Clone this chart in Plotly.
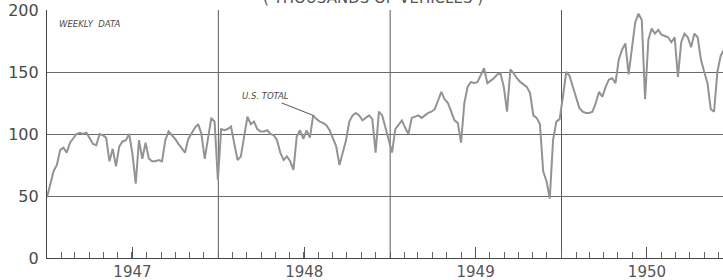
import plotly.graph_objects as go
import pandas as pd

# Weekly data, thousands of vehicles
v1947 = [49, 60, 70, 75, 87, 89, 85, 93, 97, 100,
         101, 100, 101, 97, 92, 91, 100, 99, 97, 78,
         88, 74, 90, 94, 95, 100, 84, 60, 95, 80,
         93, 80, 78, 78, 79, 78, 95, 102, 99, 96,
         92, 88, 85, 96, 101, 105, 108, 100, 80, 98,
         113, 110, 63]
v1948 = [104, 103, 104, 106, 92, 79, 82, 100, 114, 108,
         110, 104, 102, 102, 103, 100, 99, 95, 85, 79,
         82, 78, 71, 98, 103, 96, 103, 97, 115, 112,
         110, 109, 107, 103, 97, 90, 75, 85, 95, 110,
         115, 117, 115, 111, 113, 115, 112, 85, 118, 115,
         105, 96, 85]
v1949 = [104, 108, 111, 105, 100, 113, 114, 115, 113, 115,
         117, 118, 120, 127, 134, 128, 125, 118, 111, 109,
         93, 125, 138, 142, 141, 142, 148, 153, 141, 143,
         145, 148, 149, 138, 118, 152, 149, 145, 142, 140,
         138, 133, 115, 113, 108, 70, 62, 48, 95, 110,
         112]
v1950 = [130, 150, 147, 138, 128, 121, 118, 117, 117, 118,
         125, 134, 130, 138, 144, 145, 141, 160, 168, 173,
         148, 168, 190, 197, 192, 128, 176, 185, 181, 184,
         180, 179, 178, 174, 178, 146, 174, 181, 178, 170,
         181, 178, 160, 150, 141, 120, 118, 150, 163, 168]

values = v1947 + v1948 + v1949 + v1950
dates = pd.date_range("1947-01-01", periods=len(values), freq="7D")

year_labels = ["1947", "1948", "1949", "1950"]
year_mid = ["1947-07-02", "1948-07-02", "1949-07-02", "1950-07-02"]
year_starts = ["1948-01-01", "1949-01-01", "1950-01-01"]
y_ticks = [0, 50, 100, 150, 200]

FONT = "DejaVu Sans"
INK = "#4a4a4a"

fig = go.Figure()
fig.add_trace(go.Scatter(
    x=dates, y=values, mode="lines",
    line=dict(color="#939393", width=2),
    hoverinfo="skip", showlegend=False,
))

for ys in year_starts:
    fig.add_shape(type="line", xref="x", yref="paper", x0=ys, x1=ys, y0=0, y1=1,
                  line=dict(color="#5a5a5a", width=1), layer="below")

fig.update_layout(
    width=723, height=280,
    margin=dict(l=47, r=0, t=10, b=22),
    paper_bgcolor="white", plot_bgcolor="white",
    showlegend=False,
    font=dict(family=FONT, color=INK),
    xaxis=dict(
        type="date", range=["1947-01-01", "1950-12-11"], automargin=False,
        tickmode="array", tickvals=year_mid, ticktext=year_labels,
        ticks="inside", ticklen=11, tickwidth=1, tickcolor="#555",
        showgrid=False, zeroline=False,
        showline=True, linecolor="#444", linewidth=1.2,
        tickfont=dict(family=FONT, size=15, color="#555"),
        minor=dict(ticks="inside", ticklen=6, tickwidth=1, tickcolor="#666",
                   dtick="M1", tick0="1947-01-01", showgrid=False),
    ),
    yaxis=dict(
        range=[0, 200], tickmode="array", tickvals=y_ticks, automargin=False,
        showgrid=True, gridcolor="#6a6a6a", gridwidth=1,
        zeroline=False, showline=True, linecolor="#444", linewidth=1.2,
        ticks="", ticklabelstandoff=4,
        tickfont=dict(family=FONT, size=16, color=INK),
    ),
)

fig.add_annotation(
    text="<i>WEEKLY  DATA</i>", xref="paper", yref="paper",
    x=0.0148, y=0.9435, xanchor="left", yanchor="middle", showarrow=False,
    font=dict(family=FONT, size=8.5, color=INK),
)
fig.add_annotation(
    text="<i>U.S. TOTAL</i>", xref="x", yref="y",
    x=dates[81], y=115, ax=-48, ay=-19,
    showarrow=True, arrowhead=0, arrowwidth=1, arrowcolor="#555",
    font=dict(family=FONT, size=8.5, color=INK),
)
fig.add_annotation(
    text="( THOUSANDS OF VEHICLES )", xref="paper", yref="paper",
    x=0.482, y=1.004, xanchor="center", yanchor="bottom", showarrow=False,
    font=dict(family=FONT, size=15, color="#555"),
)

fig.write_html("out.html", config={"displayModeBar": False},
               post_script="document.body.style.margin='0';")
